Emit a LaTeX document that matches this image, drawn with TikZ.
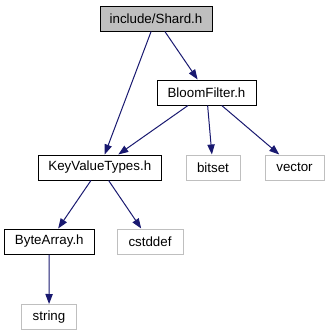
\documentclass[tikz,border=0pt]{standalone}
\usepackage{fontspec}
\setmainfont{Liberation Sans}
\usetikzlibrary{arrows.meta}
\definecolor{edgeblue}{HTML}{191970}
\definecolor{sysgray}{HTML}{BFBFBF}
\begin{document}
\begin{tikzpicture}[x=0.75pt,y=-0.75pt,
  file/.style={draw=black,line width=0.75pt,minimum height=18.75pt,inner sep=0pt,font=\fontsize{10pt}{12pt}\selectfont},
  sysfile/.style={file,draw=sysgray},
  cur/.style={file,fill=sysgray},
  dep/.style={draw=edgeblue,line width=0.75pt,-{Triangle[length=7.5pt,width=5.5pt]}}]
  \useasboundingbox (0,0) rectangle (329,336);

  % header files of the project
  \node[cur,minimum width=84pt] (shard) at (156,18.5) {include/Shard.h};
  \node[file,minimum width=74.25pt] (bloom) at (206.5,92.5) {BloomFilter.h};
  \node[file,minimum width=92.25pt] (kvt) at (99.8,167.5) {KeyValueTypes.h};
  \node[file,minimum width=67.5pt] (bytes) at (49.3,241.5) {ByteArray.h};

  % standard library headers
  \node[sysfile,minimum width=40.5pt] (bitset) at (213,167.5) {bitset};
  \node[sysfile,minimum width=44.25pt] (vector) at (294.5,167.5) {vector};
  \node[sysfile,minimum width=49.5pt] (cstddef) at (150,241.5) {cstddef};
  \node[sysfile,minimum width=41.25pt] (string) at (49,317) {string};

  % include relations
  \draw[dep] (shard) -- (kvt);
  \draw[dep] (shard) -- (bloom);
  \draw[dep] (bloom) -- (kvt);
  \draw[dep] (bloom) -- (bitset);
  \draw[dep] (bloom) -- (vector);
  \draw[dep] (kvt) -- (bytes);
  \draw[dep] (kvt) -- (cstddef);
  \draw[dep] (bytes) -- (string);
\end{tikzpicture}
\end{document}
